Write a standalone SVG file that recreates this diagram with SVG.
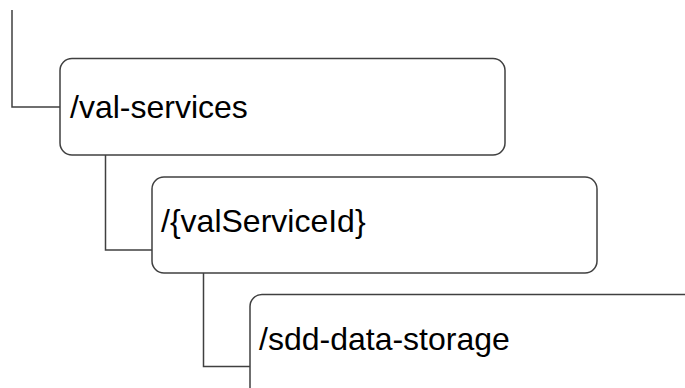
<svg xmlns="http://www.w3.org/2000/svg" width="685" height="388" viewBox="0 0 685 388">
<style>
.box{fill:#ffffff;stroke:#404040;stroke-width:1.5}
.lbl{font-family:"Liberation Sans",Arial,sans-serif;font-size:32px;fill:#000000}
.conn{fill:none;stroke:#404040;stroke-width:1.5}
</style>
<rect width="685" height="388" fill="#ffffff"/>
<g id="connectors">
<polyline class="conn" points="12,10 12,107 60,107"/>
<polyline class="conn" points="105.5,155 105.5,250 152,250"/>
<polyline class="conn" points="203.5,270 203.5,366.5 250,366.5"/>
</g>
<g id="node-val-services">
<rect class="box" x="60" y="58.5" width="445" height="96.5" rx="12"/>
<text class="lbl" x="70" y="118">/val-services</text>
</g>
<g id="node-valServiceId">
<rect class="box" x="152" y="177" width="445" height="96" rx="12"/>
<text class="lbl" x="161" y="232">/{valServiceId}</text>
</g>
<g id="node-sdd-data-storage">
<rect class="box" x="250" y="294.5" width="460" height="110" rx="12"/>
<text class="lbl" x="259" y="350">/sdd-data-storage</text>
</g>
</svg>
